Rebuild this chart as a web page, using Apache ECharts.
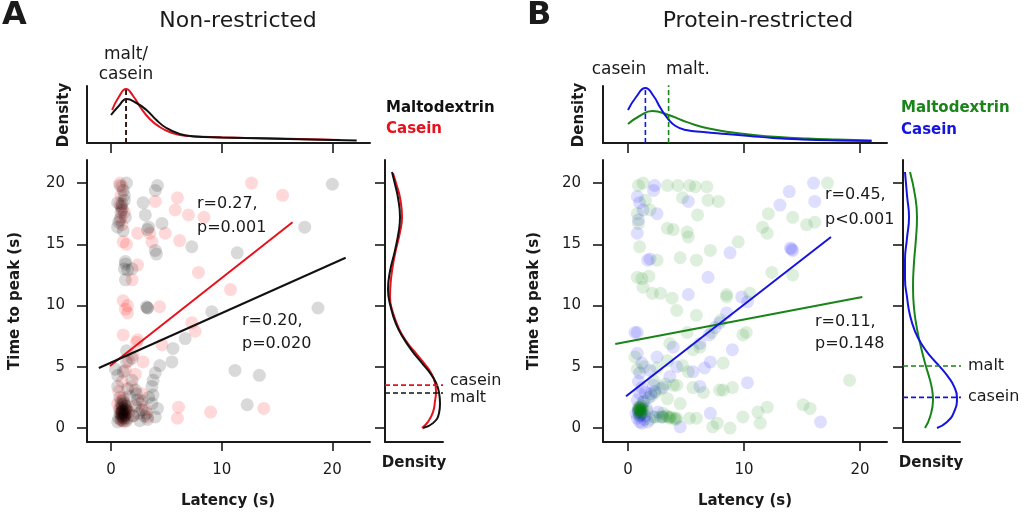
<!DOCTYPE html>
<html>
<head>
<meta charset="utf-8">
<script src="https://cdn.jsdelivr.net/npm/echarts@6/dist/echarts.min.js"></script>
<style>
html,body{margin:0;padding:0;background:#fff;}
#chart{width:1024px;height:515px;}
</style>
</head>
<body>
<div id="chart"></div>
<script>
// ---------- DATA ----------
const xTickValues = [0, 10, 20];
const yTickValues = [0, 5, 10, 15, 20];

// Panel A (Non-restricted): scatter [latency, time to peak]
const aMaltPts = [
  [0.8,19.8],[1.4,20],[1.1,19.4],[0.6,18.4],[1.0,17.8],[0.8,17.0],[1.3,17.2],[0.6,16.4],[1.1,16.1],[1.2,18.6],[0.9,18.1],
  [1.0,18.3],[0.9,17.6],[1.2,19.0],[0.7,16.8],
  [2.9,18.4],[3.1,17.4],[4.2,19.8],[4.0,19.4],[3.3,16.2],[3.4,16.4],[4.6,16.7],[4.0,14.5],[4.1,14.2],[7.3,14.8],
  [1.3,13.6],[1.5,12.9],[1.3,12.1],[1.9,13.0],[1.3,13.4],[1.2,13.0],
  [3.3,9.8],[3.2,9.9],[3.3,9.8],[9.1,9.5],[6.7,7.3],[5.6,6.5],[5.5,5.4],[4.4,5.1],[4.0,4.5],[3.8,3.9],[3.7,3.4],[3.8,2.7],
  [3.7,2.0],[4.2,1.6],[4.0,0.9],[2.8,1.5],[2.4,2.3],[2.2,3.1],[1.9,3.9],[1.1,4.6],[0.6,4.3],[0.6,3.4],[0.8,2.5],[1.0,1.7],
  [1.3,1.5],[1.0,0.9],[0.6,0.5],[1.5,0.8],[1.4,5.4],[1.9,5.7],[0.4,4.8],[1.4,6.3],
  [11.2,4.7],[13.4,4.3],[12.3,1.9],[20,19.9],[17.5,16.4],[11.4,14.3],[18.7,9.8],
  [0.8,1.2],[1.2,1.0],[1.0,1.4],[0.7,0.8],[1.3,1.8],[1.1,2.2],[0.9,2.0],[1.6,1.3],[1.4,0.6],[2.0,1.0],[2.5,1.2],
  [3.0,1.0],[3.3,0.7],[2.6,0.6],[1.7,2.6],[2.3,2.8],[1.5,3.2],[1.0,1.1],[1.2,1.3],[0.9,0.7],
  [1.1,1.5],[0.9,1.2],[1.2,0.8],[1.0,1.9],[1.3,1.1],[0.8,1.6],[1.1,0.6],[1.4,1.6],[1.0,1.3],[1.2,2.0],
  [2.8,2.2],[3.2,1.2],[2.2,1.8],[3.4,2.5]
];
const aCaseinPts = [
  [0.8,20],[1.0,19.7],[0.9,19.0],[1.0,18.0],[0.8,18.3],[1.2,17.6],[0.9,17.2],[1.0,16.6],[4.0,18.5],[6.0,18.8],[5.8,17.8],
  [7.0,17.4],[8.4,17.2],[2.4,15.9],[3.5,15.9],[4.9,15.9],[1.1,15.2],[3.7,15.2],[6.2,15.3],[1.4,15.0],[2.4,13.3],[1.9,12.1],
  [7.9,12.7],[1.1,10.4],[1.5,10.0],[1.3,9.7],[4.4,9.9],[1.5,9.4],[1.1,7.6],[2.4,7.2],[4.6,6.8],[7.6,7.9],[7.3,8.6],[2.9,5.4],
  [1.3,4.7],[1.0,3.8],[1.9,3.4],[2.8,2.8],[1.1,2.5],[0.8,1.5],[1.1,0.8],[1.3,1.2],[1.5,1.8],[1.2,0.5],[0.9,1.0],[1.4,1.4],
  [3.1,1.5],[3.3,0.9],[6.1,1.7],[6.0,0.8],[9.0,1.3],[12.7,20],[15.5,19.0],[10.8,11.3],[13.8,1.6],[2.3,7.0],[2.0,6.0],
  [1.6,5.5],[2.2,4.4],[2.6,2.0],[2.0,1.0],[0.7,3.0],[0.6,2.0],[1.0,1.2],[1.2,1.6],[0.9,2.2],
  [1.0,1.4],[1.2,1.0],[0.9,0.6]
];
// regression line end points
const aMaltFit = [[-1.1,4.9],[21.2,13.9]];
const aCaseinFit = [[-0.1,5.06],[16.4,16.8]];
// marginal densities (top: [latency, density]; right: [density, time to peak])
const aTopMalt = [[0,28],[0.7,37],[1.4,44],[2.3,40],[3.2,33],[4.1,23],[5,15],[6.2,9],[7.5,6.5],[10,5.5],[14,4.5],[18,3.5],[22.2,2.5]];
const aTopCasein = [[0.1,33],[0.7,46],[1.36,54],[2,47],[2.7,35],[3.5,24],[4.4,16],[5.3,11],[6.5,7.5],[9,6],[13,5],[17,4],[20.7,3]];
const aRightMalt = [[38,0],[48,0.4],[54,1.2],[55,2.0],[54,2.9],[51,3.7],[45,4.5],[37,5.3],[27,6.3],[18,7.4],[11,8.5],[6,9.8],[3,11.3],[5,12.8],[10,14.5],[14,16.2],[15,17.2],[13,18.8],[10,19.9],[7,20.9]];
const aRightCasein = [[37,0],[43,0.5],[48,1.3],[50,2.2],[51,3.0],[50,3.7],[46,4.5],[40,5.2],[31,6.1],[22,7.0],[14,8.1],[8,9.4],[5,10.7],[6,12.2],[10,14.2],[15,16.0],[17,17.2],[15,18.8],[11,20],[8,20.8]];
const aMedLatency = [1.36, 1.36];   // malt, casein
const aMedPeak = [2.86, 3.5];       // malt, casein

// Panel B (Protein-restricted)
const bMaltPts = [
  [0.9,19.8],[1.3,20],[3.4,19.8],[4.3,19.8],[5.3,19.8],[5.8,19.7],[6.8,19.7],[1.5,18.6],[4.7,18.8],[6.9,18.6],[7.8,18.5],
  [1.9,17.8],[0.8,17.5],[6.0,17.4],[3.4,16.3],[3.9,16.2],[5.1,16.0],[0.9,16.7],[5.2,15.6],[9.5,15.2],[1.0,14.8],[7.1,14.5],
  [4.5,13.9],[5.9,13.7],[2.5,13.7],[0.8,12.3],[1.2,12.2],[1.8,12.4],[1.3,11.5],[2.1,11.0],[2.8,11.0],[3.8,10.6],[8.5,10.9],
  [17.2,20],[14.2,17.2],[15.4,16.6],[16.1,16.8],[12.1,17.5],[11.6,16.4],[12.0,15.9],[12.4,12.7],[14.2,12.5],[8.5,10.7],
  [10.5,11.0],[5.9,9.2],[9.9,7.6],[10.2,7.8],[6.2,6.6],[8.2,5.3],[5.2,4.6],[7.9,3.1],[9.0,3.3],[19.1,3.9],[12.0,1.7],
  [11.2,1.3],[9.9,0.9],[11.4,0.4],[15.1,1.9],[15.7,1.6],[8.8,0],[7.3,0.1],[5.3,0.8],[3.6,0.8],[2.8,0.9],[4.5,2.0],
  [3.4,2.4],[3.9,3.5],[4.2,9.6],[5.1,7.8],[3.6,6.9],[5.6,6.4],[4.7,5.1],[3.4,5.5],[2.5,4.9],[2.2,3.9],[4.2,3.5],[5.6,3.3],
  [6.5,2.9],[8.2,3.1],[3.0,1.2],[4.2,0.8],[5.9,0.8],[7.7,0.4],[1.9,0.7],[1.0,1.5],[1.1,1.3],[0.9,1.7],[1.2,1.8],[1.4,2.2],
  [1.0,1.0],[1.6,1.4],[2.0,2.6],[2.4,2.9],[2.8,3.2],[3.2,3.6],[3.0,0.9],[3.5,0.9],[4.0,0.8],[2.4,0.9],[0.6,5.8],[0.8,4.8],
  [1.4,5.0],[8.0,8.8],[7.2,7.8],[1.0,1.4],[1.1,1.6],
  [1.0,1.5],[1.1,1.4],[0.9,1.3],[1.2,1.6],[1.0,1.7],[1.1,1.2],[1.3,1.5],[0.9,1.5],[1.0,1.6],[1.2,1.4],
  [3.7,0.9],[4.1,0.7],[3.3,1.0]
];
const bCaseinPts = [
  [2.3,19.8],[2.2,19.4],[0.8,18.9],[1.0,18.4],[1.3,17.8],[2.5,17.5],[5.2,18.5],[0.9,17.0],[0.8,15.9],[1.7,13.7],[1.9,13.8],
  [8.8,14.3],[6.9,12.3],[5.2,10.9],[16.0,20],[13.9,19.3],[13.1,18.2],[16.1,18.5],[14.0,14.7],[14.2,14.5],[14.1,14.6],
  [9.8,10.7],[10.3,10.3],[8.5,9.4],[7.9,8.6],[7.5,8.2],[7.0,7.6],[6.2,6.9],[9.0,6.4],[7.1,5.4],[6.6,4.9],[5.6,4.6],[6.2,3.4],
  [10.3,3.7],[7.1,1.2],[4.5,0.1],[16.6,0.5],[0.8,7.8],[3.9,6.6],[2.5,5.8],[0.8,6.1],[0.6,7.8],[1.2,5.3],[1.0,4.5],[1.9,4.7],
  [3.6,4.2],[4.2,5.0],[2.2,3.5],[3.0,3.3],[0.8,0.8],[1.0,1.0],[1.2,1.2],[0.9,1.5],[1.1,1.8],[1.3,2.1],[0.8,2.3],[1.5,1.0],
  [1.0,0.5],[1.4,0.7],[0.7,1.2],[1.2,0.4],[1.6,1.6],[1.8,2.5],[2.0,2.8],[2.3,3.0],[1.0,2.8],[1.2,3.3],[0.9,3.8],[1.5,2.9],
  [2.6,1.3],[2.2,0.9],[3.0,0.9],[1.7,0.5],[1.1,1.1],[0.9,1.3]
];
const bMaltFit = [[-1.1,6.86],[20.2,10.7]];
const bCaseinFit = [[-0.17,2.6],[17.5,15.6]];
const bTopMalt = [[0,19],[1,27],[2.1,32],[3.5,28],[4.6,23],[5.8,18],[7.2,14],[8.7,11],[10.5,8.5],[13,6],[15.5,4.5],[18,3.5],[21,2.5]];
const bTopCasein = [[0,33],[0.7,46],[1.5,55],[2.2,47],[2.8,35],[3.4,25],[4.1,17],[5.0,13],[6.5,11],[8.5,9],[10.5,7],[12.5,5],[15,3.5],[18,2.5],[21,2]];
const bRightMalt = [[22,0],[27,0.9],[30,2.3],[29,3.2],[26,4.2],[22,5.3],[18,6.6],[14,8.1],[11,9.8],[10,11.5],[11,13.5],[13,15.5],[14,17.2],[12,19.0],[7,20.9]];
const bRightCasein = [[34,0],[44,0.5],[51,1.3],[54,2.5],[51,3.4],[45,4.2],[37,5.0],[28,5.8],[19,6.8],[12,7.9],[7,9.2],[4,10.7],[2,12.2],[2,13.7],[4,15.5],[6,17.2],[4,19],[2,20.9]];
const bMedLatency = [3.5, 1.5];     // malt, casein
const bMedPeak = [5.06, 2.5];       // malt, casein

// ---------- STYLE ----------
const FONT = '"DejaVu Sans", "Liberation Sans", Arial, sans-serif';
const AX = '#1a1a1a';
const C_BLACK = '#111111', C_RED = '#e8101a', C_GREEN = '#1a841a', C_BLUE = '#1414e0';

function xAxisMain(g, min, max) {
  return {type:'value', gridIndex:g, min:min, max:max,
    axisLine:{onZero:false, lineStyle:{color:AX, width:2}},
    axisTick:{show:true, length:9, customValues:xTickValues, lineStyle:{color:AX, width:1.6}},
    axisLabel:{show:true, customValues:xTickValues, margin:21, fontSize:15, color:'#1a1a1a', fontFamily:FONT},
    splitLine:{show:false}};
}
function yAxisMain(g, showLabel) {
  return {type:'value', gridIndex:g, min:-1.14, max:21.88,
    axisLine:{onZero:false, lineStyle:{color:AX, width:2}},
    axisTick:{show:true, length:10, customValues:yTickValues, lineStyle:{color:AX, width:1.6}},
    axisLabel:{show:showLabel, customValues:yTickValues, margin:22, fontSize:15, color:'#1a1a1a', fontFamily:FONT},
    splitLine:{show:false}};
}
function xAxisTop(g, min, max) {
  return {type:'value', gridIndex:g, min:min, max:max,
    axisLine:{onZero:false, lineStyle:{color:AX, width:2}},
    axisTick:{show:true, length:10, customValues:xTickValues, lineStyle:{color:AX, width:1.6}},
    axisLabel:{show:false}, splitLine:{show:false}};
}
function plainAxis(g, min, max) {
  return {type:'value', gridIndex:g, min:min, max:max,
    axisLine:{onZero:false, lineStyle:{color:AX, width:2}},
    axisTick:{show:false}, axisLabel:{show:false}, splitLine:{show:false}};
}

function scatter(data, color, xi, op) {
  return {type:'scatter', xAxisIndex:xi, yAxisIndex:xi, data:data, symbolSize:13,
    itemStyle:{color:color, opacity:op}, silent:true};
}
function line(data, color, xi, opts) {
  opts = opts || {};
  return Object.assign({type:'line', xAxisIndex:xi, yAxisIndex:xi, data:data, showSymbol:false,
    symbol:'none', silent:true, lineStyle:{color:color, width:2}, z:5}, opts);
}
function vDash(x, h, color, xi) {
  return line([[x,0],[x,h]], color, xi, {lineStyle:{color:color, width:1.6, type:[5,3]}});
}
function hDash(y, color, xi) {
  return line([[0,y],[58,y]], color, xi, {lineStyle:{color:color, width:1.6, type:[5,3]}});
}

function txt(x, y, text, o) {
  o = o || {};
  return {type:'text', x:x, y:y, rotation:o.rot || 0, silent:true,
    style:{text:text, fill:o.color || '#1a1a1a',
      font:(o.bold ? 'bold ' : '') + (o.size || 15) + 'px ' + FONT,
      align:o.align || 'left', verticalAlign:'middle',
      textAlign:o.align || 'left', textVerticalAlign:'middle'}};
}

const aXMin = -2.17, aXMax = 23.4;
const bXMin = -2.155, bXMax = 22.33;
const SM = {smooth:0.5};

const option = {
  animation:false,
  backgroundColor:'#ffffff',
  grid:[
    {left:87, top:160, width:283, height:282},
    {left:87, top:86, width:283, height:57},
    {left:385, top:160, width:58, height:282},
    {left:603, top:160, width:284, height:282},
    {left:603, top:86, width:284, height:57},
    {left:903, top:160, width:57, height:282}
  ],
  xAxis:[
    xAxisMain(0, aXMin, aXMax),
    xAxisTop(1, aXMin, aXMax),
    plainAxis(2, 0, 58),
    xAxisMain(3, bXMin, bXMax),
    xAxisTop(4, bXMin, bXMax),
    plainAxis(5, 0, 57)
  ],
  yAxis:[
    yAxisMain(0, true),
    plainAxis(1, 0, 57),
    yAxisMain(2, false),
    yAxisMain(3, true),
    plainAxis(4, 0, 57),
    yAxisMain(5, false)
  ],
  series:[
    scatter(aCaseinPts, '#ff0000', 0, 0.15),
    scatter(aMaltPts, '#000000', 0, 0.15),
    line(aCaseinFit, C_RED, 0),
    line(aMaltFit, C_BLACK, 0),
    line(aTopCasein, C_RED, 1, SM),
    line(aTopMalt, C_BLACK, 1, SM),
    vDash(aMedLatency[1], 54, C_RED, 1),
    vDash(aMedLatency[0], 54, C_BLACK, 1),
    line(aRightCasein, C_RED, 2, SM),
    line(aRightMalt, C_BLACK, 2, SM),
    hDash(aMedPeak[1], C_RED, 2),
    hDash(aMedPeak[0], C_BLACK, 2),

    scatter(bCaseinPts, '#0000ff', 3, 0.13),
    scatter(bMaltPts, '#008000', 3, 0.13),
    line(bMaltFit, C_GREEN, 3),
    line(bCaseinFit, C_BLUE, 3),
    line(bTopMalt, C_GREEN, 4, SM),
    line(bTopCasein, C_BLUE, 4, SM),
    vDash(bMedLatency[0], 58, C_GREEN, 4),
    vDash(bMedLatency[1], 55, C_BLUE, 4),
    line(bRightMalt, C_GREEN, 5, SM),
    line(bRightCasein, C_BLUE, 5, SM),
    hDash(bMedPeak[0], C_GREEN, 5),
    hDash(bMedPeak[1], C_BLUE, 5)
  ],
  graphic:[
    txt(2, 16, 'A', {bold:true, size:32}),
    txt(527, 16, 'B', {bold:true, size:32}),
    txt(238, 21, 'Non-restricted', {size:22, align:'center'}),
    txt(758, 21, 'Protein-restricted', {size:22, align:'center'}),
    // panel A annotations
    txt(126, 55, 'malt/', {size:17, align:'center'}),
    txt(126, 75, 'casein', {size:17, align:'center'}),
    txt(386, 108, 'Maltodextrin', {bold:true, size:15, color:'#111'}),
    txt(386, 129, 'Casein', {bold:true, size:15, color:C_RED}),
    txt(197, 204, 'r=0.27,', {size:16}),
    txt(197, 228, 'p=0.001', {size:16}),
    txt(242, 321, 'r=0.20,', {size:16}),
    txt(242, 344, 'p=0.020', {size:16}),
    txt(450, 381, 'casein', {size:16}),
    txt(450, 398, 'malt', {size:16}),
    txt(15, 301, 'Time to peak (s)', {bold:true, size:15, align:'center', rot:Math.PI/2}),
    txt(64, 115, 'Density', {bold:true, size:15, align:'center', rot:Math.PI/2}),
    txt(228, 501, 'Latency (s)', {bold:true, size:15, align:'center'}),
    txt(414, 463, 'Density', {bold:true, size:15, align:'center'}),
    // panel B annotations
    txt(619, 70, 'casein', {size:17, align:'center'}),
    txt(688, 70, 'malt.', {size:17, align:'center'}),
    txt(901, 108, 'Maltodextrin', {bold:true, size:15, color:C_GREEN}),
    txt(901, 130, 'Casein', {bold:true, size:15, color:C_BLUE}),
    txt(825, 195, 'r=0.45,', {size:16}),
    txt(825, 220, 'p<0.001', {size:16}),
    txt(815, 322, 'r=0.11,', {size:16}),
    txt(815, 344, 'p=0.148', {size:16}),
    txt(968, 366, 'malt', {size:16}),
    txt(968, 397, 'casein', {size:16}),
    txt(534, 301, 'Time to peak (s)', {bold:true, size:15, align:'center', rot:Math.PI/2}),
    txt(579, 115, 'Density', {bold:true, size:15, align:'center', rot:Math.PI/2}),
    txt(745, 501, 'Latency (s)', {bold:true, size:15, align:'center'}),
    txt(931, 463, 'Density', {bold:true, size:15, align:'center'})
  ]
};

const chart = echarts.init(document.getElementById('chart'), null, {renderer:'canvas'});
chart.setOption(option);
</script>
</body>
</html>
